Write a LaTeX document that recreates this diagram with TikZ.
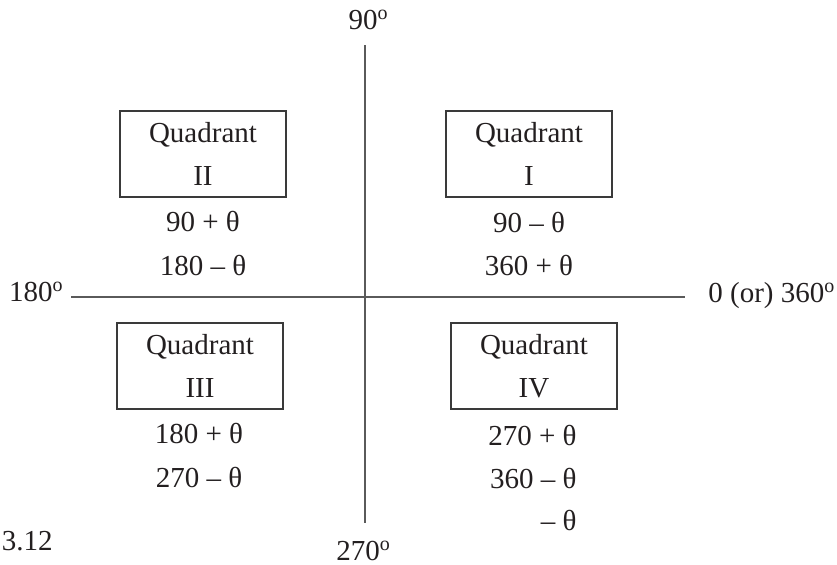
\documentclass[tikz,border=0pt]{standalone}
\usepackage{fontspec}
\setmainfont{Liberation Serif}
\definecolor{inkgray}{HTML}{231F20}
\definecolor{boxgray}{HTML}{3A3A3A}
\definecolor{axisgray}{HTML}{5A5A5A}
\newcommand{\degsup}{\raisebox{0.75ex}{\fontsize{10}{10}\selectfont o}}
\tikzset{
  every node/.style={text=inkgray,font=\fontsize{14.5}{21.5}\selectfont},
  quad/.style={draw=boxgray,line width=0.75pt,minimum width=83pt,minimum height=43pt,inner sep=0pt,align=center},
  val/.style={anchor=base,inner sep=0pt},
  axis/.style={draw=axisgray,line width=1pt}
}
\begin{document}
\begin{tikzpicture}[x=0.5pt,y=-0.5pt]
\useasboundingbox (0,0) rectangle (837,564);
% axes
\coordinate (up) at (365,45);
\coordinate (down) at (365,523);
\coordinate (left) at (71,297);
\coordinate (right) at (685,297);
\draw[axis] (up) -- (down);
\draw[axis] (left) -- (right);
\node[val] (a90) at (368,29) {90\degsup};
\node[val,anchor=base east] (a180) at (63,301) {180\degsup};
\node[val,anchor=base west] (a360) at (708,302) {0 (or) 360\degsup};
\node[val] (a270) at (363,560) {270\degsup};
\node[val,anchor=base east] (fig) at (53,550) {3.12};
% quadrants
\node[quad] (Q2) at (203,154) {Quadrant\\II};
\node[quad] (Q1) at (529,154) {Quadrant\\I};
\node[quad] (Q3) at (200,366) {Quadrant\\III};
\node[quad] (Q4) at (534,366) {Quadrant\\IV};
\node[val] (Q2a) at (203,231) {90 + θ};
\node[val] (Q2b) at (203,275) {180 – θ};
\node[val] (Q1a) at (529,232) {90 – θ};
\node[val] (Q1b) at (529,275) {360 + θ};
\node[val] (Q3a) at (199,443) {180 + θ};
\node[val] (Q3b) at (199,487) {270 – θ};
\node[val,anchor=base east] (Q4a) at (577,445) {270 + θ};
\node[val,anchor=base east] (Q4b) at (577,488) {360 – θ};
\node[val,anchor=base east] (Q4c) at (577,530) {– θ};
\end{tikzpicture}
\end{document}
